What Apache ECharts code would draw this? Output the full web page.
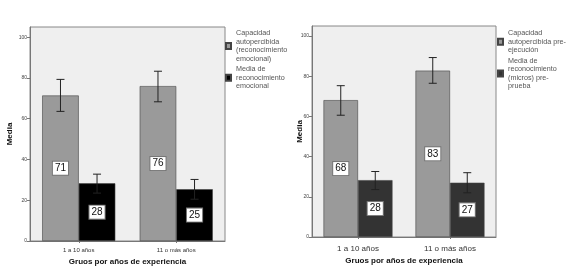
<!DOCTYPE html>
<html>
<head>
<meta charset="utf-8">
<script src="https://cdn.jsdelivr.net/npm/echarts@6/dist/echarts.min.js"></script>
<style>
  html, body { margin: 0; padding: 0; background: #fff; }
  #chart { width: 567px; height: 271px; }
</style>
</head>
<body>
<div id="chart"></div>
<script>
const categories = ['1 a 10 años', '11 o más años']

// panel izquierdo
const leftCapacidad = [71.4, 76]
const leftCapacidadLow = [63.6, 68.3]
const leftCapacidadHigh = [79.3, 83.3]
const leftMedia = [28.3, 25.4]
const leftMediaLow = [23.5, 20.5]
const leftMediaHigh = [32.8, 30.2]

// panel derecho
const rightCapacidad = [68.1, 82.8]
const rightCapacidadLow = [60.6, 76.5]
const rightCapacidadHigh = [75.3, 89.3]
const rightMedia = [28.3, 27]
const rightMediaLow = [23.6, 22]
const rightMediaHigh = [32.6, 32]

const tickValues = [0, 20, 40, 60, 80, 100]

const leftNames = [
  'Capacidad autopercibida (reconocimiento emocional)',
  'Media de reconocimiento emocional'
]
const rightNames = [
  'Capacidad autopercibida pre-ejecución',
  'Media de reconocimiento (micros) pre-prueba'
]
const legendText = {
  'Capacidad autopercibida (reconocimiento emocional)': 'Capacidad\nautopercibida\n(reconocimiento\nemocional)',
  'Media de reconocimiento emocional': 'Media de\nreconocimiento\nemocional',
  'Capacidad autopercibida pre-ejecución': 'Capacidad\nautopercibida pre-\nejecución',
  'Media de reconocimiento (micros) pre-prueba': 'Media de\nreconocimiento\n(micros) pre-\nprueba'
}

const font = "'Liberation Sans', Arial, sans-serif"
const catGap = 0.25

const errorData = (low, high) => low.map((l, i) => [i, l, high[i]])

// barra de error sobre la barra número idx del grupo
const errorRender = (idx) => (params, api) => {
  const x = api.value(0)
  const band = api.size([1, 0])[0]
  const bw = band * (1 - catGap) / 2
  const cx = api.coord([x, 0])[0] - band * (1 - catGap) / 2 + bw * (idx + 0.5)
  const yLo = api.coord([x, api.value(1)])[1]
  const yHi = api.coord([x, api.value(2)])[1]
  const cap = 4
  const style = { stroke: '#222', lineWidth: 1 }
  return {
    type: 'group',
    children: [
      { type: 'line', shape: { x1: cx, y1: yLo, x2: cx, y2: yHi }, style },
      { type: 'line', shape: { x1: cx - cap, y1: yHi, x2: cx + cap, y2: yHi }, style },
      { type: 'line', shape: { x1: cx - cap, y1: yLo, x2: cx + cap, y2: yLo }, style }
    ]
  }
}

const barLabel = {
  show: true,
  position: 'inside',
  formatter: (p) => Math.round(p.value),
  color: '#111',
  fontFamily: font,
  fontSize: 10,
  backgroundColor: '#fff',
  borderColor: '#777',
  borderWidth: 1,
  padding: [2, 2, 1, 2]
}

const makeY = (gridIndex, nameGap) => ({
  type: 'value',
  gridIndex,
  min: 0,
  max: 105,
  interval: 20,
  name: 'Media',
  nameLocation: 'middle',
  nameGap,
  nameMoveOverlap: false,
  nameTextStyle: { fontFamily: font, fontSize: 8, fontWeight: 'bold', color: '#111' },
  splitLine: { show: false },
  axisLine: { show: true, lineStyle: { color: '#777' } },
  axisTick: { show: true, length: 3, customValues: tickValues, lineStyle: { color: '#777' } },
  axisLabel: { customValues: tickValues, fontFamily: font, fontSize: 5, color: '#444', margin: 3 }
})

const makeX = (gridIndex, labelSize, labelMargin, nameGap) => ({
  type: 'category',
  gridIndex,
  data: categories,
  name: 'Gruos por años de experiencia',
  nameLocation: 'middle',
  nameGap,
  nameMoveOverlap: false,
  nameTextStyle: { fontFamily: font, fontSize: 8, fontWeight: 'bold', color: '#111' },
  axisLine: { show: true, lineStyle: { color: '#777' } },
  axisTick: { show: true, alignWithLabel: true, length: 2, lineStyle: { color: '#777' } },
  axisLabel: { fontFamily: font, fontSize: labelSize, color: '#333', margin: labelMargin }
})

const makeLegend = (names, left) => ({
  data: names,
  orient: 'vertical',
  left,
  top: 29,
  padding: 0,
  itemWidth: 5,
  itemHeight: 6,
  itemGap: 2,
  icon: 'rect',
  formatter: (n) => legendText[n],
  textStyle: { fontFamily: font, fontSize: 7.2, lineHeight: 8.5, color: '#555' }
})

const barSeries = (name, data, color, axisIndex) => ({
  name,
  type: 'bar',
  xAxisIndex: axisIndex,
  yAxisIndex: axisIndex,
  data,
  barGap: '0%',
  barCategoryGap: '25%',
  itemStyle: { color, borderColor: '#444', borderWidth: 0.6 },
  label: barLabel
})

const errorSeries = (low, high, idx, axisIndex) => ({
  type: 'custom',
  xAxisIndex: axisIndex,
  yAxisIndex: axisIndex,
  data: errorData(low, high),
  renderItem: errorRender(idx),
  z: 5,
  silent: true
})

const chart = echarts.init(document.getElementById('chart'))
const option = {
  animation: false,
  backgroundColor: '#fff',
  grid: [
    { left: 30, top: 27, width: 195, height: 215, show: true, backgroundColor: '#efefef', borderColor: '#888', borderWidth: 1 },
    { left: 312, top: 26, width: 184, height: 211, show: true, backgroundColor: '#efefef', borderColor: '#888', borderWidth: 1 }
  ],
  legend: [makeLegend(leftNames, 225), makeLegend(rightNames, 497)],
  xAxis: [makeX(0, 6, 6, 17), makeX(1, 8, 8, 20)],
  yAxis: [makeY(0, 16), makeY(1, 8)],
  series: [
    barSeries(leftNames[0], leftCapacidad, '#9a9a9a', 0),
    barSeries(leftNames[1], leftMedia, '#000', 0),
    barSeries(rightNames[0], rightCapacidad, '#9a9a9a', 1),
    barSeries(rightNames[1], rightMedia, '#333', 1),
    errorSeries(leftCapacidadLow, leftCapacidadHigh, 0, 0),
    errorSeries(leftMediaLow, leftMediaHigh, 1, 0),
    errorSeries(rightCapacidadLow, rightCapacidadHigh, 0, 1),
    errorSeries(rightMediaLow, rightMediaHigh, 1, 1)
  ]
}
chart.setOption(option)
</script>
</body>
</html>
